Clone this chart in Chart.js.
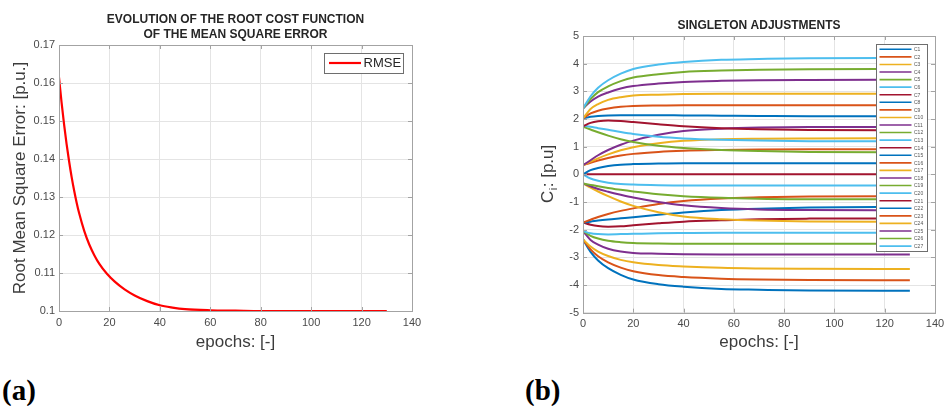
<!DOCTYPE html>
<html>
<head>
<meta charset="utf-8">
<script src="https://cdn.jsdelivr.net/npm/chart.js@4.4.0/dist/chart.umd.min.js"></script>
<style>
  html, body { margin: 0; padding: 0; background: #fff; }
  body { width: 946px; height: 406px; position: relative; overflow: hidden; font-family: "Liberation Sans", Arial, sans-serif; }
  .box { position: absolute; top: 0; height: 360px; }
  .box canvas { display: block; }
  #wa { left: 0; width: 470px; }
  #wb { left: 480px; width: 466px; }
  .lbl { position: absolute; top: 376px; font: bold 29px/29px "Liberation Serif", "Times New Roman", serif; color: #000; }
</style>
</head>
<body>
<div class="box" id="wa"><canvas id="chartA" width="470" height="360"></canvas></div>
<div class="box" id="wb"><canvas id="chartB" width="466" height="360"></canvas></div>
<div class="lbl" style="left:2px">(a)</div>
<div class="lbl" style="left:525px">(b)</div>
<script>
// ---- data (a): RMSE per epoch ----
const rmseEpochs = [0, 1, 2, 3, 4, 5, 6, 7, 8, 10, 12, 14, 16, 19, 22, 26, 30, 35, 40, 45, 50, 60, 70, 80, 100, 130];
const rmse = [0.1615, 0.1550, 0.1492, 0.1440, 0.1394, 0.1353, 0.1317, 0.1285, 0.1257, 0.1211, 0.1175, 0.1147, 0.1124,
              0.1098, 0.1078, 0.1057, 0.1041, 0.1026, 0.1015, 0.1009, 0.1005, 0.1002, 0.1001, 0.1000, 0.1000, 0.1000];

// ---- data (b): singleton values C1..C27 at these epochs ----
const epochs = [0, 3, 6, 10, 15, 20, 30, 40, 55, 70, 90, 130];
const singletons = [
  [-2.35, -2.80, -3.11, -3.39, -3.63, -3.80, -3.97, -4.06, -4.14, -4.17, -4.20, -4.21], // C1
  [-2.35, -2.71, -2.96, -3.18, -3.37, -3.50, -3.64, -3.71, -3.77, -3.80, -3.82, -3.83], // C2
  [-2.35, -2.61, -2.79, -2.95, -3.09, -3.18, -3.28, -3.33, -3.38, -3.40, -3.41, -3.42], // C3
  [-2.05, -2.37, -2.54, -2.69, -2.79, -2.84, -2.87, -2.89, -2.90, -2.90, -2.90, -2.90], // C4
  [-2.05, -2.22, -2.32, -2.40, -2.45, -2.48, -2.50, -2.51, -2.51, -2.51, -2.51, -2.51], // C5
  [-2.05, -2.13, -2.16, -2.17, -2.16, -2.15, -2.13, -2.12, -2.11, -2.11, -2.11, -2.11], // C6
  [-1.74, -1.82, -1.87, -1.89, -1.88, -1.84, -1.77, -1.71, -1.66, -1.62, -1.60, -1.59], // C7
  [-1.74, -1.71, -1.67, -1.63, -1.59, -1.55, -1.46, -1.38, -1.29, -1.24, -1.20, -1.18], // C8
  [-1.74, -1.64, -1.54, -1.43, -1.32, -1.23, -1.07, -0.96, -0.87, -0.83, -0.80, -0.79], // C9
  [-0.33, -0.48, -0.62, -0.79, -0.98, -1.14, -1.37, -1.52, -1.62, -1.67, -1.70, -1.71], // C10
  [-0.33, -0.43, -0.53, -0.63, -0.74, -0.84, -1.00, -1.12, -1.22, -1.27, -1.29, -1.30], // C11
  [-0.33, -0.38, -0.43, -0.49, -0.56, -0.62, -0.72, -0.79, -0.85, -0.88, -0.90, -0.90], // C12
  [0, -0.15, -0.23, -0.30, -0.35, -0.37, -0.39, -0.40, -0.40, -0.40, -0.40, -0.40],     // C13
  [0, 0, 0, 0, 0, 0, 0, 0, 0, 0, 0, 0],                                                  // C14
  [0, 0.15, 0.23, 0.30, 0.35, 0.37, 0.39, 0.40, 0.40, 0.40, 0.40, 0.40],                 // C15
  [0.33, 0.42, 0.50, 0.59, 0.68, 0.74, 0.81, 0.85, 0.88, 0.90, 0.91, 0.91],            // C16
  [0.33, 0.46, 0.58, 0.72, 0.87, 0.98, 1.12, 1.21, 1.27, 1.29, 1.30, 1.31],            // C17
  [0.33, 0.51, 0.69, 0.88, 1.07, 1.22, 1.43, 1.57, 1.65, 1.69, 1.71, 1.71],            // C18
  [1.72, 1.62, 1.52, 1.40, 1.27, 1.17, 1.03, 0.95, 0.88, 0.84, 0.81, 0.80],            // C19
  [1.76, 1.72, 1.67, 1.61, 1.53, 1.46, 1.36, 1.30, 1.25, 1.22, 1.20, 1.19],            // C20
  [1.74, 1.86, 1.92, 1.95, 1.93, 1.89, 1.81, 1.74, 1.67, 1.63, 1.60, 1.59],            // C21
  [2.02, 2.08, 2.11, 2.13, 2.14, 2.14, 2.14, 2.13, 2.12, 2.11, 2.10, 2.10],            // C22
  [2.02, 2.20, 2.30, 2.38, 2.44, 2.47, 2.49, 2.50, 2.50, 2.50, 2.50, 2.50],            // C23
  [2.02, 2.36, 2.54, 2.69, 2.79, 2.85, 2.88, 2.90, 2.91, 2.91, 2.91, 2.91],            // C24
  [2.38, 2.63, 2.81, 2.96, 3.10, 3.19, 3.28, 3.34, 3.38, 3.40, 3.41, 3.42],            // C25
  [2.38, 2.72, 2.97, 3.18, 3.37, 3.50, 3.62, 3.70, 3.75, 3.78, 3.80, 3.81],            // C26
  [2.38, 2.82, 3.13, 3.40, 3.64, 3.81, 3.97, 4.06, 4.14, 4.17, 4.20, 4.21]             // C27
];

// ---- ticks ----
const xTicks = [0, 20, 40, 60, 80, 100, 120, 140];
const yTicksA = [0.1, 0.11, 0.12, 0.13, 0.14, 0.15, 0.16, 0.17];
const yTicksB = [-5, -4, -3, -2, -1, 0, 1, 2, 3, 4, 5];

const palette = ['#0072BD', '#D95319', '#EDB120', '#7E2F8E', '#77AC30', '#4DBEEE', '#A2142F'];
const FONT = '"Liberation Sans", Arial, Helvetica, sans-serif';
Chart.defaults.font.family = FONT;

// axes box + inner tick marks, MATLAB style
const frame = {
  id: 'frame',
  afterDatasetsDraw(chart) {
    const {ctx, chartArea: a, scales} = chart;
    ctx.save();
    ctx.strokeStyle = '#a3a3a3';
    ctx.lineWidth = 1;
    ctx.beginPath();
    scales.x.ticks.forEach(t => {
      const px = Math.round(scales.x.getPixelForValue(t.value)) + 0.5;
      ctx.moveTo(px, a.bottom); ctx.lineTo(px, a.bottom - 4);
      ctx.moveTo(px, a.top); ctx.lineTo(px, a.top + 4);
    });
    scales.y.ticks.forEach(t => {
      const py = Math.round(scales.y.getPixelForValue(t.value)) + 0.5;
      ctx.moveTo(a.left, py); ctx.lineTo(a.left + 4, py);
      ctx.moveTo(a.right, py); ctx.lineTo(a.right - 4, py);
    });
    ctx.stroke();
    ctx.strokeRect(Math.round(a.left) + 0.5, Math.round(a.top) + 0.5, Math.round(a.right - a.left), Math.round(a.bottom - a.top));
    ctx.restore();
  }
};

// boxed legend inside the axes, built from the datasets
const boxLegend = {
  id: 'boxLegend',
  afterDraw(chart, args, o) {
    if (!o.show) return;
    const {ctx} = chart;
    ctx.save();
    ctx.fillStyle = '#fff';
    ctx.fillRect(o.x, o.y, o.w, o.h);
    ctx.strokeStyle = o.edge;
    ctx.lineWidth = 1;
    ctx.strokeRect(o.x + 0.5, o.y + 0.5, o.w, o.h);
    ctx.font = o.fontSize + 'px ' + FONT;
    ctx.textBaseline = 'middle';
    ctx.textAlign = 'left';
    chart.data.datasets.forEach((ds, i) => {
      const y = o.firstRow + i * o.rowH;
      ctx.strokeStyle = ds.borderColor;
      ctx.lineWidth = o.lineWidth;
      ctx.beginPath();
      ctx.moveTo(o.lineX0, y); ctx.lineTo(o.lineX1, y);
      ctx.stroke();
      ctx.fillStyle = o.textColor;
      ctx.fillText(ds.label, o.textX, y + 0.5);
    });
    ctx.restore();
  }
};

// y title with a subscript (C_i)
const subTitle = {
  id: 'subTitle',
  afterDraw(chart, args, o) {
    if (!o.show) return;
    const {ctx, chartArea: a} = chart;
    ctx.save();
    ctx.translate(o.x, (a.top + a.bottom) / 2);
    ctx.rotate(-Math.PI / 2);
    ctx.fillStyle = o.color;
    ctx.textBaseline = 'middle';
    ctx.textAlign = 'left';
    const big = '17px ' + FONT, small = '11px ' + FONT;
    ctx.font = big;
    const w1 = ctx.measureText(o.main).width, w3 = ctx.measureText(o.rest).width;
    ctx.font = small;
    const w2 = ctx.measureText(o.sub).width;
    let x = -(w1 + w2 + w3) / 2;
    ctx.font = big; ctx.fillText(o.main, x, 0); x += w1;
    ctx.font = small; ctx.fillText(o.sub, x + 0.5, 6); x += w2 + 1;
    ctx.font = big; ctx.fillText(o.rest, x, 0);
    ctx.restore();
  }
};

function axes(xH, yW, yTicks, yMin, yMax, yTitle, fmt) {
  return {
    x: {
      type: 'linear', min: 0, max: 140,
      afterBuildTicks: s => { s.ticks = xTicks.map(v => ({value: v})); },
      // fixed axis height; let the label overflow sit in the layout padding
      afterFit: s => { s.height = xH; s.paddingLeft = 0; s.paddingRight = 0; },
      grid: {color: '#e4e4e4', drawTicks: false},
      border: {display: false},
      ticks: {padding: 5, color: '#4a4a4a', font: {size: 11}, maxRotation: 0},
      title: {display: true, text: 'epochs: [-]', color: '#3c3c3c', font: {size: 17}, padding: {top: 0, bottom: 7}}
    },
    y: {
      type: 'linear', min: yMin, max: yMax,
      afterBuildTicks: s => { s.ticks = yTicks.map(v => ({value: v})); },
      afterFit: s => { s.width = yW; },
      grid: {color: '#e4e4e4', drawTicks: false},
      border: {display: false},
      ticks: {padding: 4, color: '#4a4a4a', font: {size: 11}, callback: fmt},
      title: {display: !!yTitle, text: yTitle, color: '#3c3c3c', font: {size: 17}, padding: {top: 10, bottom: 0}}
    }
  };
}

// ---- chart (a) ----
new Chart(document.getElementById('chartA'), {
  type: 'line',
  data: {
    datasets: [{
      label: 'RMSE',
      data: rmseEpochs.map((e, k) => ({x: e, y: rmse[k]})),
      borderColor: '#ff0000',
      borderWidth: 2.2,
      pointRadius: 0,
      cubicInterpolationMode: 'monotone',
      fill: false
    }]
  },
  options: {
    responsive: false, animation: false,
    layout: {padding: {left: 0, right: 58, top: 0, bottom: 0}},
    plugins: {
      legend: {display: false}, tooltip: {enabled: false},
      title: {
        display: true, fullSize: false,
        text: ['EVOLUTION OF THE ROOT COST FUNCTION', 'OF THE MEAN SQUARE ERROR'],
        color: '#262626', font: {size: 12, weight: 'bold', lineHeight: '15px'},
        padding: {top: 12, bottom: 3}
      },
      boxLegend: {
        show: true, x: 324, y: 53, w: 79, h: 20, edge: '#6e6e6e',
        firstRow: 63, rowH: 0, lineX0: 329, lineX1: 361, lineWidth: 2.2,
        textX: 363.5, fontSize: 13, textColor: '#262626'
      }
    },
    scales: axes(49, 59, yTicksA, 0.1, 0.17, 'Root Mean Square Error: [p.u.]', v => String(+v.toFixed(2)))
  },
  plugins: [frame, boxLegend]
});

// ---- chart (b) ----
new Chart(document.getElementById('chartB'), {
  type: 'line',
  data: {
    datasets: singletons.map((vals, i) => ({
      label: 'C' + (i + 1),
      data: epochs.map((e, k) => ({x: e, y: vals[k]})),
      borderColor: palette[i % palette.length],
      borderWidth: 2,
      pointRadius: 0,
      cubicInterpolationMode: 'monotone',
      fill: false,
      order: singletons.length - 1 - i
    }))
  },
  options: {
    responsive: false, animation: false,
    layout: {padding: {left: 0, right: 11, top: 0, bottom: 0}},
    plugins: {
      legend: {display: false}, tooltip: {enabled: false},
      title: {
        display: true, fullSize: false, text: 'SINGLETON ADJUSTMENTS',
        color: '#262626', font: {size: 12, weight: 'bold', lineHeight: '15px'},
        padding: {top: 18.5, bottom: 2.5}
      },
      boxLegend: {
        show: true, x: 396, y: 44, w: 51, h: 207, edge: '#6e6e6e',
        firstRow: 49.3, rowH: 7.57, lineX0: 399.5, lineX1: 431.5, lineWidth: 1.6,
        textX: 434, fontSize: 5, textColor: '#555'
      },
      subTitle: {show: true, x: 68, main: 'C', sub: 'i', rest: ': [p.u]', color: '#3c3c3c'}
    },
    scales: axes(47.3, 103, yTicksB, -5, 5, '', v => String(v))
  },
  plugins: [frame, boxLegend, subTitle]
});
</script>
</body>
</html>
